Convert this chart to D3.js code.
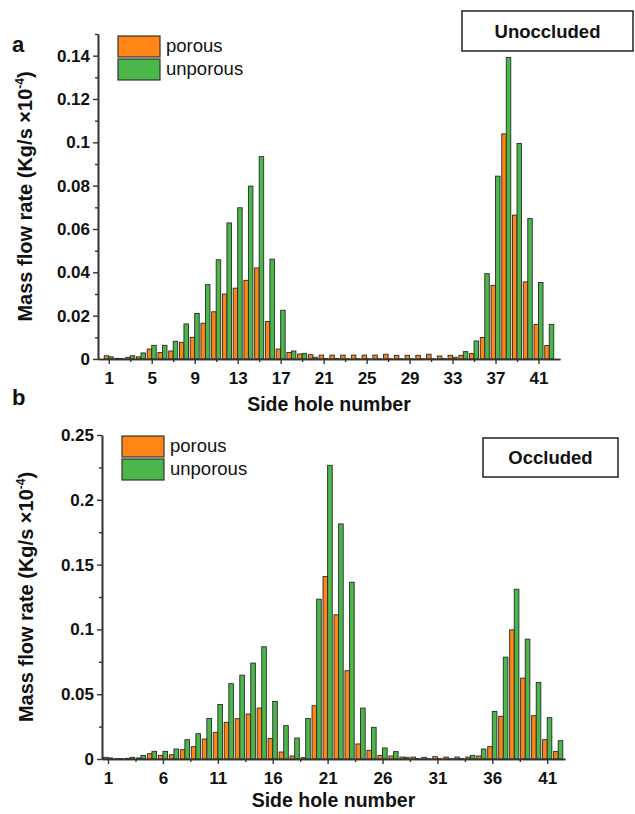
<!DOCTYPE html>
<html>
<head>
<meta charset="utf-8">
<script src="https://cdn.jsdelivr.net/npm/d3@7"></script>
<style>
  html, body { margin: 0; padding: 0; background: #fff; }
  svg { display: block; }
  text { font-family: Arial, "Liberation Sans", sans-serif; fill: #111; }
</style>
</head>
<body>
<svg id="chart" width="635" height="814"></svg>
<script>
// ---------- DATA ----------
const holes = d3.range(1, 43); // side hole numbers 1..42
const seriesNames = ["porous", "unporous"];

const porousA = [0.0015,0.0003,0.0008,0.0010,0.0046,0.0030,0.0037,0.0077,0.0100,0.0165,
                 0.0218,0.0300,0.0327,0.0363,0.0420,0.0173,0.0046,0.0030,0.0023,0.0020,
                 0.0018,0.0018,0.0018,0.0018,0.0018,0.0018,0.0022,0.0017,0.0017,0.0017,
                 0.0022,0.0014,0.0017,0.0017,0.0025,0.0099,0.0340,0.1039,0.0664,0.0356,
                 0.0160,0.0062];
const unporousA = [0.0010,0.0002,0.0015,0.0028,0.0063,0.0063,0.0082,0.0162,0.0210,0.0343,
                   0.0458,0.0628,0.0698,0.0798,0.0934,0.0461,0.0225,0.0037,0.0026,0.0008,
                   0.0002,0.0002,0.0001,0.0001,0.0001,0.0001,0.0001,0.0001,0.0001,0.0001,
                   0.0001,0.0002,0.0008,0.0034,0.0083,0.0394,0.0844,0.1392,0.0995,0.0648,
                   0.0353,0.0160];
const porousB = [0.0013,0.0003,0.0005,0.0008,0.0041,0.0028,0.0033,0.0072,0.0095,0.0154,
                 0.0206,0.0283,0.0311,0.0347,0.0393,0.0159,0.0054,0.0023,0.0010,0.0411,
                 0.1408,0.1113,0.0681,0.0116,0.0067,0.0028,0.0023,0.0015,0.0015,0.0013,
                 0.0018,0.0015,0.0015,0.0015,0.0023,0.0095,0.0329,0.0997,0.0624,0.0334,
                 0.0149,0.0059];
const unporousB = [0.0008,0.0003,0.0013,0.0028,0.0059,0.0059,0.0077,0.0149,0.0195,0.0313,
                   0.0421,0.0581,0.0647,0.0740,0.0866,0.0444,0.0257,0.0162,0.0313,0.1233,
                   0.2266,0.1814,0.1364,0.0393,0.0244,0.0085,0.0057,0.0013,0.0003,0.0002,
                   0.0002,0.0002,0.0003,0.0028,0.0077,0.0367,0.0786,0.1310,0.0925,0.0591,
                   0.0319,0.0141];

const xTicksA = [1,5,9,13,17,21,25,29,33,37,41];
const xMinorA = [3,7,11,15,19,23,27,31,35,39];
const yTicksA = [0,0.02,0.04,0.06,0.08,0.1,0.12,0.14];
const yMinorA = [0.01,0.03,0.05,0.07,0.09,0.11,0.13,0.15];

const xTicksB = [1,6,11,16,21,26,31,36,41];
const xMinorB = [3.5,8.5,13.5,18.5,23.5,28.5,33.5,38.5];
const yTicksB = [0,0.05,0.1,0.15,0.2,0.25];
const yMinorB = [0.025,0.075,0.125,0.175,0.225];

const colors = ["#ff8616", "#4bb649"];

// ---------- DRAW ----------
const svg = d3.select("#chart");

function panel(cfg) {
  const g = svg.append("g");
  const x = d3.scaleLinear().domain(cfg.xDomain).range(cfg.xRange);
  const y = d3.scaleLinear().domain(cfg.yDomain).range(cfg.yRange);
  const step = x(1) - x(0);
  const bw = step * 0.42;

  const series = [cfg.porous, cfg.unporous];
  series.forEach((vals, si) => {
    g.append("g").selectAll("rect")
      .data(holes.map((h, i) => ({h, v: vals[i]})))
      .join("rect")
      .attr("x", d => si === 0 ? x(d.h) - bw : x(d.h))
      .attr("width", bw)
      .attr("y", d => y(d.v))
      .attr("height", d => Math.max(0, y(0) - y(d.v)))
      .attr("fill", colors[si])
      .attr("stroke", "#2b2b2b")
      .attr("stroke-width", 0.9);
  });

  // axes
  const axStyle = sel => {
    sel.selectAll("path.domain").attr("stroke", "#333").attr("stroke-width", 1.6);
    sel.selectAll(".tick line").attr("stroke", "#333").attr("stroke-width", 1.4);
    sel.selectAll("text").attr("font-size", 17).attr("font-weight", "bold")
       .attr("font-family", "Arial, 'Liberation Sans', sans-serif").attr("fill", "#111");
  };
  const xMin = g.append("g").attr("transform", `translate(0,${y(0)})`)
    .call(d3.axisBottom(x).tickValues(cfg.xMinor).tickSize(3).tickSizeOuter(0).tickFormat(""));
  axStyle(xMin);
  const xAx = g.append("g").attr("transform", `translate(0,${y(0)})`)
    .call(d3.axisBottom(x).tickValues(cfg.xTicks).tickSize(5).tickPadding(8).tickSizeOuter(0).tickFormat(d3.format("d")));
  axStyle(xAx);
  const yMin = g.append("g").attr("transform", `translate(${cfg.xRange[0]},0)`)
    .call(d3.axisLeft(y).tickValues(cfg.yMinor).tickSize(3).tickSizeOuter(0).tickFormat(""));
  axStyle(yMin);
  const yAx = g.append("g").attr("transform", `translate(${cfg.xRange[0]},0)`)
    .call(d3.axisLeft(y).tickValues(cfg.yTicks).tickSize(5).tickPadding(3).tickSizeOuter(0).tickFormat(d3.format("~g")));
  axStyle(yAx);

  // axis titles
  g.append("text")
    .attr("x", (cfg.xRange[0] + cfg.xRange[1]) / 2)
    .attr("y", cfg.xTitleY)
    .attr("text-anchor", "middle")
    .attr("font-size", 19.5).attr("font-weight", "bold")
    .text("Side hole number");

  const yt = g.append("text")
    .attr("transform", `translate(${cfg.yTitleX},${(cfg.yRange[0] + cfg.yRange[1]) / 2}) rotate(-90)`)
    .attr("text-anchor", "middle")
    .attr("font-size", 20).attr("font-weight", "bold");
  yt.append("tspan").text("Mass flow rate (Kg/s \u00d710");
  yt.append("tspan").attr("font-size", 12).attr("dy", -8).text("-4");
  yt.append("tspan").attr("dy", 8).text(")");

  // panel letter
  g.append("text").attr("x", cfg.letterX).attr("y", cfg.letterY)
    .attr("font-size", 22).attr("font-weight", "bold").text(cfg.letter);

  // legend
  const lg = g.append("g");
  seriesNames.forEach((name, i) => {
    lg.append("rect")
      .attr("x", cfg.legX).attr("y", cfg.legY + i * 23)
      .attr("width", 42).attr("height", 21)
      .attr("fill", colors[i]).attr("stroke", "#333").attr("stroke-width", 1.2);
    lg.append("text")
      .attr("x", cfg.legX + 48).attr("y", cfg.legY + i * 23 + 16)
      .attr("font-size", 18.5)
      .text(name);
  });

  // condition box
  g.append("rect")
    .attr("x", cfg.box[0]).attr("y", cfg.box[1])
    .attr("width", cfg.box[2]).attr("height", cfg.box[3])
    .attr("fill", "#fff").attr("stroke", "#222").attr("stroke-width", 1.5);
  g.append("text")
    .attr("x", cfg.box[0] + cfg.box[2] / 2).attr("y", cfg.box[1] + cfg.box[3] / 2 + 6.5)
    .attr("text-anchor", "middle")
    .attr("font-size", 18.5).attr("font-weight", "bold")
    .text(cfg.boxText);
}

panel({
  porous: porousA, unporous: unporousA,
  xDomain: [0, 43], xRange: [98, 560],
  yDomain: [0, 0.15], yRange: [359, 34],
  xTicks: xTicksA, xMinor: xMinorA, yTicks: yTicksA, yMinor: yMinorA,
  xTitleY: 411, yTitleX: 32,
  letter: "a", letterX: 12, letterY: 52,
  legX: 118, legY: 36,
  box: [462, 11, 171, 40], boxText: "Unoccluded"
});

panel({
  porous: porousB, unporous: unporousB,
  xDomain: [0.45, 42.62], xRange: [102, 565],
  yDomain: [0, 0.25], yRange: [759, 435],
  xTicks: xTicksB, xMinor: xMinorB, yTicks: yTicksB, yMinor: yMinorB,
  xTitleY: 807, yTitleX: 33,
  letter: "b", letterX: 12, letterY: 405,
  legX: 122, legY: 436,
  box: [483, 438, 135, 39], boxText: "Occluded"
});
</script>
</body>
</html>
